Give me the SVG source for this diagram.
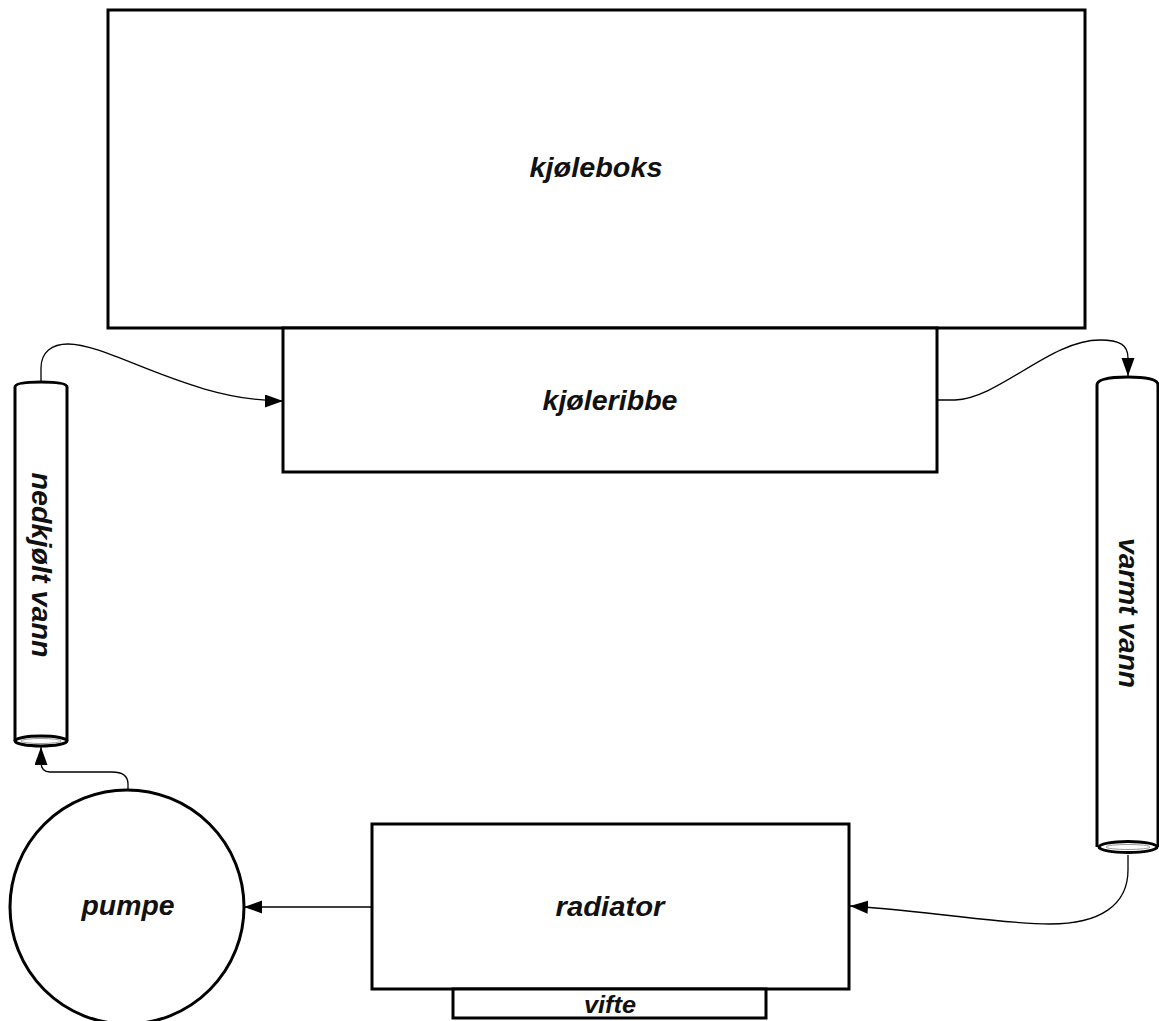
<svg xmlns="http://www.w3.org/2000/svg" width="1159" height="1021" viewBox="0 0 1159 1021">
  <defs>
    <style>
      .box { fill: #fff; stroke: #000; stroke-width: 3; }
      .lbl { font-family: "Liberation Sans", Arial, Helvetica, sans-serif; font-weight: bold; font-style: italic; font-size: 27px; fill: #111; text-anchor: middle; }
      .small { font-size: 23px; }
      .wire { fill: none; stroke: #000; stroke-width: 1.3; }
    </style>
    <marker id="arrow" markerUnits="userSpaceOnUse" markerWidth="19" markerHeight="14" refX="18" refY="6.5" orient="auto">
      <path d="M0,0 L18,6.5 L0,13 z" fill="#000"/>
    </marker>
  </defs>
  <rect width="1159" height="1021" fill="#fff"/>

  <!-- cooler box -->
  <g id="kjoleboks">
    <rect class="box" x="108" y="10" width="977" height="318"/>
    <text class="lbl" x="596" y="177" textLength="133" lengthAdjust="spacingAndGlyphs">kjøleboks</text>
  </g>

  <!-- heat sink -->
  <g id="kjoleribbe">
    <rect class="box" x="283" y="328" width="654" height="144"/>
    <text class="lbl" x="610" y="410" textLength="135" lengthAdjust="spacingAndGlyphs">kjøleribbe</text>
  </g>

  <!-- cold water pipe -->
  <g id="nedkjolt-vann">
    <path class="box" d="M15,741 L15,387 Q15,382 41,382 Q67,382 67,387 L67,741"/>
    <ellipse cx="41" cy="741" rx="26" ry="5" fill="#fff" stroke="#000" stroke-width="3"/>
    <ellipse cx="41" cy="741" rx="20" ry="2.5" fill="#fff" stroke="#999" stroke-width="1"/>
    <text class="lbl" transform="translate(32,565) rotate(90)" textLength="185" lengthAdjust="spacingAndGlyphs">nedkjølt vann</text>
  </g>

  <!-- hot water pipe -->
  <g id="varmt-vann">
    <path class="box" d="M1097,847 L1097,385 Q1097,377 1128,377 Q1158,377 1158,385 L1158,847"/>
    <ellipse cx="1128" cy="847" rx="29" ry="5.5" fill="#fff" stroke="#000" stroke-width="3"/>
    <ellipse cx="1128" cy="847" rx="22" ry="2.5" fill="#fff" stroke="#999" stroke-width="1"/>
    <text class="lbl" transform="translate(1119,613) rotate(90)" textLength="150" lengthAdjust="spacingAndGlyphs">varmt vann</text>
  </g>

  <!-- radiator -->
  <g id="radiator">
    <rect class="box" x="372" y="824" width="477" height="165"/>
    <text class="lbl" x="610" y="916" textLength="109" lengthAdjust="spacingAndGlyphs">radiator</text>
  </g>

  <!-- fan -->
  <g id="vifte">
    <rect class="box" x="453" y="989" width="313" height="29"/>
    <text class="lbl small" x="610" y="1013" textLength="52" lengthAdjust="spacingAndGlyphs">vifte</text>
  </g>

  <!-- pump -->
  <g id="pumpe">
    <circle class="box" cx="127" cy="907" r="117"/>
    <text class="lbl" x="128" y="915" textLength="93" lengthAdjust="spacingAndGlyphs">pumpe</text>
  </g>

  <!-- water flow -->
  <g id="connectors">
    <path class="wire" marker-end="url(#arrow)" d="M41,382 L41,368 C41,352 52,344 68,344 C110,344 190,401 283,401"/>
    <path class="wire" marker-end="url(#arrow)" d="M937,400 L955,400 C1000,398 1050,340 1100,340 C1120,340 1128,345 1128,358 L1128,376"/>
    <path class="wire" marker-end="url(#arrow)" d="M1128,855 L1128,870 C1128,905 1100,924 1050,924 C1000,924 940,912 850,906"/>
    <path class="wire" marker-end="url(#arrow)" d="M372,907 L244,907"/>
    <path class="wire" marker-end="url(#arrow)" d="M128,790 L128,784 C128,776 122,772 112,772 L50,772 C44,772 41,768 41,762 L41,747"/>
  </g>
</svg>
